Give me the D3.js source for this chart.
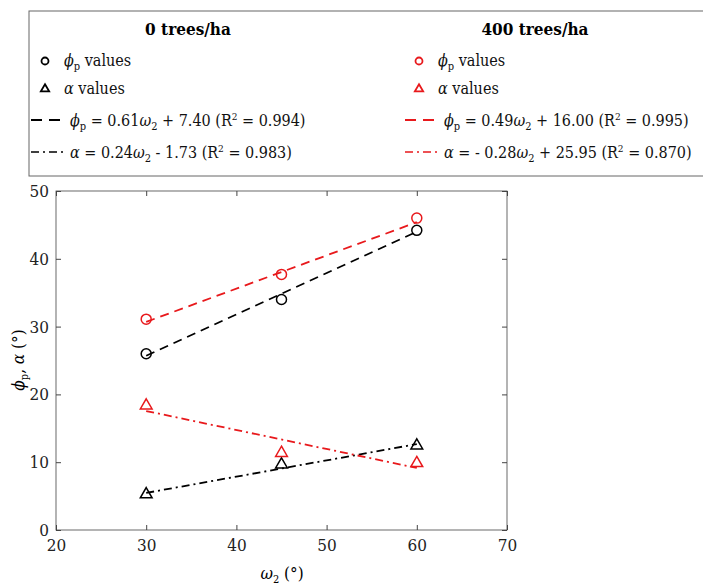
<!DOCTYPE html>
<html><head><meta charset="utf-8">
<script src="https://cdn.jsdelivr.net/npm/d3@7"></script>
<style>body{margin:0;background:#fff}svg text{font-family:"DejaVu Serif Condensed","DejaVu Serif",serif !important}</style>
</head><body><svg id="c" width="703" height="588"></svg>
<script>
const xVals = [30, 45, 60];
const phi0 = [26.0, 34.0, 44.2];
const phi400 = [31.1, 37.7, 46.0];
const alpha0 = [5.4, 9.8, 12.6];
const alpha400 = [18.5, 11.5, 10.0];
// fitted lines: [slope, intercept]
const fitPhi0 = [0.61, 7.40], fitPhi400 = [0.49, 16.00];
const fitAlpha0 = [0.24, -1.73], fitAlpha400 = [-0.28, 25.95];
const xTicks = [20, 30, 40, 50, 60, 70];
const yTicks = [0, 10, 20, 30, 40, 50];
const FS = "17px", LFS = "16px", SUB = "11px";

const svg = d3.select("#c");
const x = d3.scaleLinear().domain([20, 70]).range([56, 507]);
const y = d3.scaleLinear().domain([0, 50]).range([530, 191]);

svg.append("rect").attr("x", 56).attr("y", 191).attr("width", 451).attr("height", 339)
  .attr("fill", "none").attr("stroke", "#444").attr("stroke-width", 0.8);
svg.append("g").attr("transform", "translate(0,530)")
  .call(d3.axisBottom(x).tickValues(xTicks).tickSize(-5).tickPadding(9));
svg.append("g").attr("transform", "translate(56,0)")
  .call(d3.axisLeft(y).tickValues(yTicks).tickSize(-5).tickPadding(7));
svg.append("g").attr("transform", "translate(0,191)")
  .call(d3.axisTop(x).tickValues(xTicks).tickSize(-5).tickFormat(""));
svg.append("g").attr("transform", "translate(507,0)")
  .call(d3.axisRight(y).tickValues(yTicks).tickSize(-5).tickFormat(""));
svg.selectAll(".domain").remove();
svg.selectAll(".tick line").attr("stroke", "#444");
svg.selectAll(".tick text").style("font-size", FS).attr("fill", "#222");

svg.append("text").attr("x", 282).attr("y", 579).attr("text-anchor", "middle").style("font-size", FS)
  .html(`<tspan font-style="italic">ω</tspan><tspan style="font-size:${SUB}" dy="4">2</tspan><tspan dy="-4"> (°)</tspan>`);
svg.append("text").attr("transform", "translate(24,360) rotate(-90)").attr("text-anchor", "middle").style("font-size", FS)
  .html(`<tspan font-style="italic">ϕ</tspan><tspan style="font-size:${SUB}" dy="4">p</tspan><tspan dy="-4">, </tspan><tspan font-style="italic">α</tspan> (°)`);

const DASH = "9,6", DASHDOT = "8,4,2,4";
function fit(c, col, dash) {
  svg.append("line").attr("x1", x(30)).attr("x2", x(60))
    .attr("y1", y(c[0] * 30 + c[1])).attr("y2", y(c[0] * 60 + c[1]))
    .attr("stroke", col).attr("stroke-width", 1.8).attr("stroke-dasharray", dash);
}
fit(fitPhi0, "#000", DASH); fit(fitPhi400, "#e8191c", DASH);
fit(fitAlpha0, "#000", DASHDOT); fit(fitAlpha400, "#e8191c", DASHDOT);

const tri = d3.symbol().type(d3.symbolTriangle).size(60);
function pts(vals, col, shape) {
  vals.forEach((v, i) => {
    if (shape === "c") svg.append("circle").attr("cx", x(xVals[i])).attr("cy", y(v)).attr("r", 5)
      .attr("fill", "none").attr("stroke", col).attr("stroke-width", 1.5);
    else svg.append("path").attr("d", tri).attr("transform", `translate(${x(xVals[i])},${y(v) + 1})`)
      .attr("fill", "none").attr("stroke", col).attr("stroke-width", 1.5);
  });
}
pts(phi0, "#000", "c"); pts(phi400, "#e8191c", "c");
pts(alpha0, "#000", "t"); pts(alpha400, "#e8191c", "t");

// legend
svg.append("rect").attr("x", 29).attr("y", 11).attr("width", 690).attr("height", 165)
  .attr("fill", "#fff").attr("stroke", "#666").attr("stroke-width", 1);
svg.append("text").attr("x", 188).attr("y", 35).attr("text-anchor", "middle").style("font-size", FS).attr("font-weight", "bold").text("0 trees/ha");
svg.append("text").attr("x", 535).attr("y", 35).attr("text-anchor", "middle").style("font-size", FS).attr("font-weight", "bold").text("400 trees/ha");
const sub = s => `<tspan style="font-size:${SUB}" dy="4">${s}</tspan><tspan dy="-4">`;
const sup = `R<tspan style="font-size:10px" dy="-6">2</tspan><tspan dy="6">`;
const phiT = `<tspan font-style="italic">ϕ</tspan>${sub("p")}`;
const om = `<tspan font-style="italic">ω</tspan>${sub("2")}`;
const rows = [
  [phiT + " values</tspan>", phiT + " values</tspan>"],
  ['<tspan font-style="italic">α</tspan>  values', '<tspan font-style="italic">α</tspan>  values'],
  [`${phiT} = ${fitPhi0[0]}</tspan>${om} + ${fitPhi0[1].toFixed(2)} (${sup} = 0.994)</tspan></tspan>`,
   `${phiT} = ${fitPhi400[0]}</tspan>${om} + ${fitPhi400[1].toFixed(2)} (${sup} = 0.995)</tspan></tspan>`],
  [`<tspan font-style="italic">α</tspan> = ${fitAlpha0[0]}${om} - 1.73 (${sup} = 0.983)</tspan></tspan>`,
   `<tspan font-style="italic">α</tspan> = - 0.28${om} + ${fitAlpha400[1].toFixed(2)} (${sup} = 0.870)</tspan></tspan>`]
];
const rowY = [66, 94, 126, 158];
[[0, "#000", 45], [1, "#e8191c", 419]].forEach(([c, col, sx]) => {
  const tx = c === 0 ? 64 : 438;
  svg.append("circle").attr("cx", sx).attr("cy", rowY[0] - 5).attr("r", 3.5).attr("fill", "none").attr("stroke", col).attr("stroke-width", 1.8);
  svg.append("path").attr("d", d3.symbol().type(d3.symbolTriangle).size(30)).attr("transform", `translate(${sx},${rowY[1] - 5})`)
    .attr("fill", "none").attr("stroke", col).attr("stroke-width", 1.8);
  const lx = c === 0 ? 30 : 404;
  svg.append("line").attr("x1", lx + 1).attr("x2", lx + 34).attr("y1", rowY[2] - 6).attr("y2", rowY[2] - 6)
    .attr("stroke", col).attr("stroke-width", 2.2).attr("stroke-dasharray", "11,7");
  svg.append("line").attr("x1", lx + 1).attr("x2", lx + 34).attr("y1", rowY[3] - 6).attr("y2", rowY[3] - 6)
    .attr("stroke", col).attr("stroke-width", 1.6).attr("stroke-dasharray", "8,4,2,4");
  rows.forEach((r, i) => svg.append("text").attr("x", i < 2 ? tx : lx + 40).attr("y", rowY[i])
    .style("font-size", LFS).attr("fill", "#111").html(r[c]));
});
</script></body></html>
